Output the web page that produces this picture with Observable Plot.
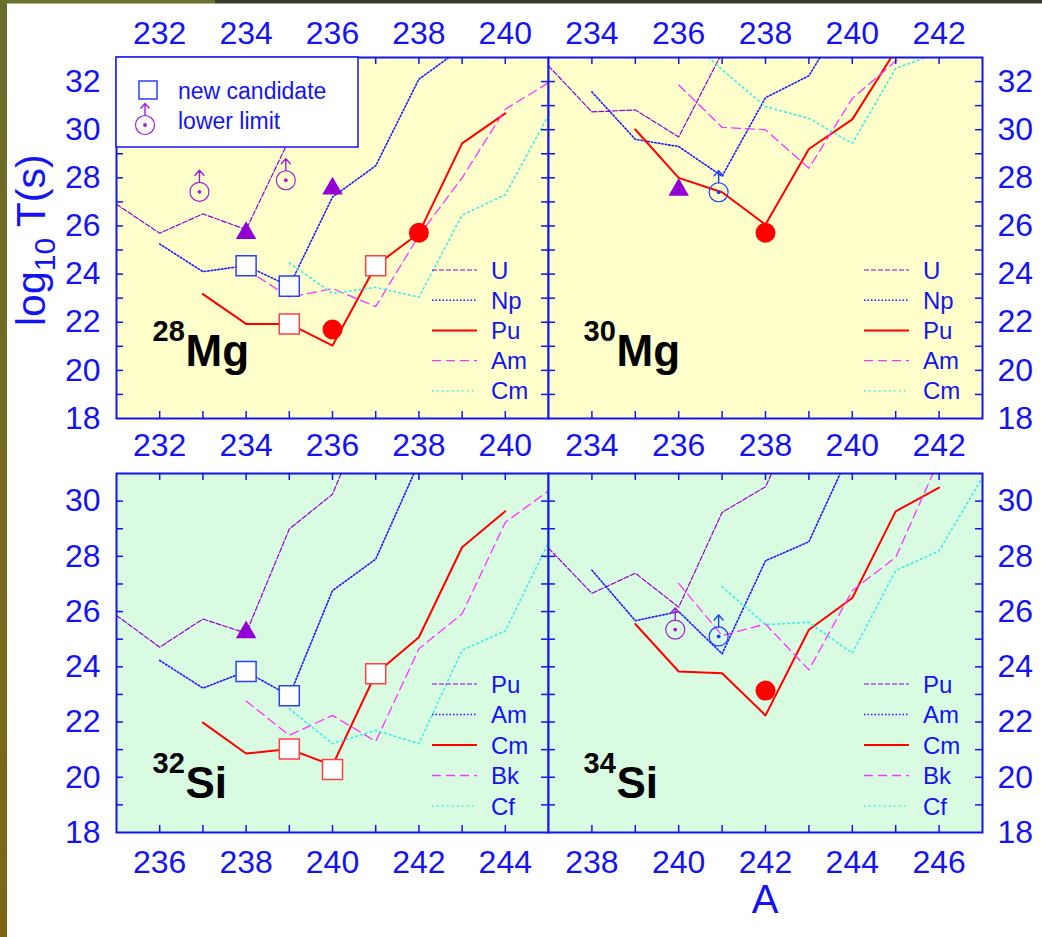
<!DOCTYPE html>
<html><head><meta charset="utf-8">
<script src="https://cdn.jsdelivr.net/npm/d3@7"></script>
<script src="https://cdn.jsdelivr.net/npm/@observablehq/plot@0.6"></script>
<style>
html,body{margin:0;padding:0;background:#fff;}
#wrap{position:relative;width:1042px;height:937px;overflow:hidden;font-family:"Liberation Sans",Arial,sans-serif;background:#fff;}
#wrap svg{position:absolute;}
</style></head><body><div id="wrap"></div>
<script>
// ---------------- data ----------------
// 28Mg panel (top-left)
const mg28_U  = [[231,26.9],[232,25.7],[233,26.5],[234,25.85],[235,29.6],[236,33.4]];
const mg28_Np = [[232,25.25],[233,24.1],[234,24.35],[235,23.5],[236,27.2],[237,28.5],[238,32.1],[239,33.4]];
const mg28_Pu = [[233,23.17],[234,21.93],[235,21.93],[236,21.03],[237,24.35],[238,25.7],[239,29.43],[240,30.68]];
const mg28_Am = [[234,24.2],[235,23.04],[236,23.4],[237,22.65],[238,25.6],[239,28.0],[240,30.85],[241,31.95]];
const mg28_Cm = [[235,24.46],[236,23.2],[237,23.45],[238,23.04],[239,26.45],[240,27.3],[241,30.6]];
const mg28_squaresBlue = [[234,24.35],[235,23.5]];
const mg28_squaresRed  = [[235,21.93],[237,24.35]];
const mg28_triangles   = [[234,25.7],[236,27.55]];
const mg28_circles     = [[236,21.7],[238,25.72]];
const mg28_limitsPurple = [[232.92,27.42],[234.92,27.9]];

// 30Mg panel (top-right)
const mg30_U  = [[233,32.65],[234,30.74],[235,30.82],[236,29.7],[237,33.2]];
const mg30_Np = [[234,31.57],[235,29.6],[236,29.3],[237,28.07],[238,31.33],[239,32.24],[240,35.2]];
const mg30_Pu = [[235,30.01],[236,28.0],[237,27.4],[238,26.06],[239,29.2],[240,30.43],[241,33.3]];
const mg30_Am = [[236,31.86],[237,30.1],[238,30.0],[239,28.4],[240,31.3],[241,32.85],[242,34.2]];
const mg30_Cm = [[236,34.1],[237,32.5],[238,30.96],[239,30.47],[240,29.43],[241,32.55],[242,33.2]];
const mg30_triangles  = [[236,27.5]];
const mg30_limitsBlue = [[236.92,27.4]];
const mg30_circles    = [[238,25.72]];

// 32Si panel (bottom-left)
const si32_Pu = [[235,25.86],[236,24.71],[237,25.73],[238,25.22],[239,28.99],[240,30.25],[241,34.0]];
const si32_Am = [[236,24.23],[237,23.23],[238,23.83],[239,22.95],[240,26.76],[241,27.9],[242,31.4]];
const si32_Cm = [[237,21.98],[238,20.86],[239,21.02],[240,20.43],[241,23.75],[242,25.07],[243,28.33],[244,29.63]];
const si32_Bk = [[238,22.76],[239,21.52],[240,22.24],[241,21.3],[242,24.65],[243,25.92],[244,29.23],[245,30.37]];
const si32_Cf = [[239,22.48],[240,21.22],[241,21.7],[242,21.22],[243,24.6],[244,25.3],[245,28.5]];
const si32_triangles   = [[238,25.25]];
const si32_squaresBlue = [[238,23.83],[239,22.95]];
const si32_squaresRed  = [[239,21.02],[240,20.28],[241,23.75]];

// 34Si panel (bottom-right)
const si34_Pu = [[237,28.3],[238,26.66],[239,27.39],[240,26.16],[241,29.59],[242,30.52],[243,33.9]];
const si34_Am = [[238,27.5],[239,25.67],[240,26.0],[241,24.47],[242,27.84],[243,28.53],[244,31.95]];
const si34_Cm = [[239,25.55],[240,23.83],[241,23.77],[242,22.24],[243,25.34],[244,26.49],[245,29.63],[246,30.49]];
const si34_Bk = [[240,27.02],[241,25.13],[242,25.55],[243,23.89],[244,26.76],[245,27.96],[246,31.5]];
const si34_Cf = [[241,26.9],[242,25.53],[243,25.61],[244,24.49],[245,27.48],[246,28.2],[247,30.86]];
const si34_limitsPurple = [[239.92,25.35]];
const si34_limitsBlue   = [[240.92,25.1]];
const si34_circles      = [[242,23.14]];

// legend names
const namesMg = ["U","Np","Pu","Am","Cm"];
const namesSi = ["Pu","Am","Cm","Bk","Cf"];

// ticks and tick labels
const mg28_xTicks = [232,233,234,235,236,237,238,239,240];
const mg30_xTicks = [234,235,236,237,238,239,240,241,242];
const si32_xTicks = [236,237,238,239,240,241,242,243,244];
const si34_xTicks = [238,239,240,241,242,243,244,245,246];
const mg_yTicks = [19,20,21,22,23,24,25,26,27,28,29,30,31,32];
const si_yTicks = [19,20,21,22,23,24,25,26,27,28,29,30];
const mg28_xLabels = [232,234,236,238,240];
const mg30_xLabels = [234,236,238,240,242];
const si32_xLabels = [236,238,240,242,244];
const si34_xLabels = [238,240,242,244,246];
const mg_yLabels = [18,20,22,24,26,28,30,32];
const si_yLabels = [18,20,22,24,26,28,30];

// ---------------- styles ----------------
const BLUE = "#1414f0";
const PURPLE = "#9400d3";
const FONT = '"Liberation Sans", Arial, sans-serif';
const lineStyles = [
  {stroke: PURPLE, strokeWidth: 1.2, strokeDasharray: "5,2"},
  {stroke: "#1a1aff", strokeWidth: 1.6, strokeDasharray: "1.5,2"},
  {stroke: "#ff0000", strokeWidth: 2},
  {stroke: "#ff33ff", strokeWidth: 1.3, strokeDasharray: "9,5"},
  {stroke: "#33eeee", strokeWidth: 1.6, strokeDasharray: "1.5,3.5"}
];
const wrap = document.getElementById("wrap");
const xy = {x: d => d[0], y: d => d[1]};

const arrowShape = {
  draw(context, l) {
    context.moveTo(0, 0);
    context.lineTo(0, -l);
    context.moveTo(-4.5, -l + 5);
    context.lineTo(0, -l);
    context.lineTo(4.5, -l + 5);
  }
};

function limitMarks(data, color) {
  return [
    Plot.dot(data, {...xy, r: 9.5, fill: "none", stroke: color, strokeWidth: 1.2}),
    Plot.dot(data, {...xy, r: 1.9, fill: color}),
    Plot.vector(data, {...xy, length: 12, rotate: 0, anchor: "start", dy: -9.5, shape: arrowShape, stroke: color, strokeWidth: 1.4})
  ];
}

function makePanel(cfg) {
  const fw = cfg.width - cfg.ml - cfg.mr;
  const fh = cfg.height - cfg.mt - cfg.mb;
  const tick = {stroke: BLUE, strokeWidth: 1.5};
  const lab = {fill: BLUE, fontSize: 32, text: d => String(d)};
  const marks = [
    Plot.frame({fill: cfg.bg, stroke: "none"}),
    ...cfg.series.map((s, i) => Plot.line(s, {...xy, ...lineStyles[i], clip: true})),
    Plot.ruleX(cfg.xTicks, {x: d => d, insetTop: fh - 7, ...tick}),
    Plot.ruleX(cfg.xTicks, {x: d => d, insetBottom: fh - 7, ...tick}),
    Plot.ruleY(cfg.yTicks, {y: d => d, insetRight: fw - 7, ...tick}),
    Plot.ruleY(cfg.yTicks, {y: d => d, insetLeft: fw - 7, ...tick})
  ];
  if (cfg.squaresBlue) marks.push(Plot.dot(cfg.squaresBlue, {...xy, symbol: "square", r: 11.3, fill: "white", stroke: "#2a40ff", strokeWidth: 1.5}));
  if (cfg.squaresRed) marks.push(Plot.dot(cfg.squaresRed, {...xy, symbol: "square", r: 11.3, fill: "white", stroke: "#ff4040", strokeWidth: 1.5}));
  if (cfg.triangles) marks.push(Plot.dot(cfg.triangles, {...xy, symbol: "triangle", r: 7.6, fill: PURPLE}));
  if (cfg.circles) marks.push(Plot.dot(cfg.circles, {...xy, r: 10, fill: "#ff0000"}));
  if (cfg.limitsPurple) marks.push(...limitMarks(cfg.limitsPurple, "#a020d0"));
  if (cfg.limitsBlue) marks.push(...limitMarks(cfg.limitsBlue, "#1a3cff"));
  marks.push(Plot.frame({stroke: BLUE, strokeWidth: 2}));
  if (cfg.xLabelsTop) marks.push(Plot.text(cfg.xLabelsTop, {x: d => d, frameAnchor: "top", lineAnchor: "bottom", dy: -14, ...lab}));
  if (cfg.xLabelsBottom) marks.push(Plot.text(cfg.xLabelsBottom, {x: d => d, frameAnchor: "bottom", lineAnchor: "top", dy: cfg.bottomDy, ...lab}));
  if (cfg.yLabelsLeft) marks.push(Plot.text(cfg.yLabelsLeft, {y: d => d, frameAnchor: "left", textAnchor: "end", lineAnchor: "middle", dx: -16, ...lab}));
  if (cfg.yLabelsRight) marks.push(Plot.text(cfg.yLabelsRight, {y: d => d, frameAnchor: "right", textAnchor: "start", lineAnchor: "middle", dx: 15, ...lab}));
  marks.push(Plot.text([cfg.massNum], {frameAnchor: "bottom-left", textAnchor: "start", lineAnchor: "bottom", dx: cfg.massDx, dy: -(cfg.baseUp + 25), fontSize: 29, fontWeight: "bold", fill: "black", text: d => d}));
  marks.push(Plot.text([cfg.element], {frameAnchor: "bottom-left", textAnchor: "start", lineAnchor: "bottom", dx: cfg.massDx + 33, dy: -cfg.baseUp, fontSize: 44, fontWeight: "bold", fill: "black", text: d => d}));

  const svg = Plot.plot({
    width: cfg.width, height: cfg.height,
    marginLeft: cfg.ml, marginRight: cfg.mr, marginTop: cfg.mt, marginBottom: cfg.mb,
    x: {domain: cfg.xDomain, axis: null},
    y: {domain: cfg.yDomain, axis: null},
    style: {overflow: "visible", background: "transparent", fontFamily: FONT},
    marks
  });
  svg.style.left = cfg.left + "px";
  svg.style.top = cfg.top + "px";

  // series legend
  const g = d3.select(svg).append("g").attr("text-anchor", "start");
  cfg.names.forEach((name, i) => {
    const yy = cfg.mt + cfg.legTop + i * cfg.legStep;
    const st = lineStyles[i];
    g.append("line").attr("x1", cfg.ml + 316).attr("x2", cfg.ml + 361).attr("y1", yy).attr("y2", yy)
      .attr("stroke", st.stroke).attr("stroke-width", st.strokeWidth)
      .attr("stroke-dasharray", st.strokeDasharray || null);
    g.append("text").attr("x", cfg.ml + 375).attr("y", yy).attr("dy", "0.36em")
      .attr("text-anchor", "start").attr("fill", BLUE).attr("font-size", 24).text(name);
  });
  wrap.appendChild(svg);
  return svg;
}

const tl = makePanel({left: 0, top: 0, width: 548, height: 470, ml: 116, mr: 0, mt: 57, mb: 52,
  xDomain: [231, 241], yDomain: [18, 33], bg: "#ffffcc",
  series: [mg28_U, mg28_Np, mg28_Pu, mg28_Am, mg28_Cm], names: namesMg,
  xTicks: mg28_xTicks, yTicks: mg_yTicks, xLabelsTop: mg28_xLabels, xLabelsBottom: mg28_xLabels, bottomDy: 15,
  yLabelsLeft: mg_yLabels,
  squaresBlue: mg28_squaresBlue, squaresRed: mg28_squaresRed, triangles: mg28_triangles, circles: mg28_circles,
  limitsPurple: mg28_limitsPurple,
  massNum: "28", element: "Mg", massDx: 36, baseUp: 53, legTop: 213, legStep: 30.2});

makePanel({left: 548, top: 0, width: 494, height: 470, ml: 0, mr: 60, mt: 57, mb: 52,
  xDomain: [233, 243], yDomain: [18, 33], bg: "#ffffcc",
  series: [mg30_U, mg30_Np, mg30_Pu, mg30_Am, mg30_Cm], names: namesMg,
  xTicks: mg30_xTicks, yTicks: mg_yTicks, xLabelsTop: mg30_xLabels, xLabelsBottom: mg30_xLabels, bottomDy: 15,
  yLabelsRight: mg_yLabels,
  triangles: mg30_triangles, circles: mg30_circles, limitsBlue: mg30_limitsBlue,
  massNum: "30", element: "Mg", massDx: 35, baseUp: 53, legTop: 213, legStep: 30.2});

makePanel({left: 0, top: 470, width: 548, height: 467, ml: 116, mr: 0, mt: 3, mb: 105,
  xDomain: [235, 245], yDomain: [18, 31], bg: "#d9fbe2",
  series: [si32_Pu, si32_Am, si32_Cm, si32_Bk, si32_Cf], names: namesSi,
  xTicks: si32_xTicks, yTicks: si_yTicks, xLabelsBottom: si32_xLabels, bottomDy: 18,
  yLabelsLeft: si_yLabels,
  squaresBlue: si32_squaresBlue, squaresRed: si32_squaresRed, triangles: si32_triangles,
  massNum: "32", element: "Si", massDx: 36, baseUp: 35, legTop: 211, legStep: 30.5});

makePanel({left: 548, top: 470, width: 494, height: 467, ml: 0, mr: 60, mt: 3, mb: 105,
  xDomain: [237, 247], yDomain: [18, 31], bg: "#d9fbe2",
  series: [si34_Pu, si34_Am, si34_Cm, si34_Bk, si34_Cf], names: namesSi,
  xTicks: si34_xTicks, yTicks: si_yTicks, xLabelsBottom: si34_xLabels, bottomDy: 18,
  yLabelsRight: si_yLabels,
  circles: si34_circles, limitsPurple: si34_limitsPurple, limitsBlue: si34_limitsBlue,
  massNum: "34", element: "Si", massDx: 35, baseUp: 35, legTop: 211, legStep: 30.5});

// symbol legend box (top-left panel)
{
  const g = d3.select(tl).append("g").attr("text-anchor", "start");
  g.append("rect").attr("x", 116).attr("y", 57).attr("width", 242).attr("height", 90)
    .attr("fill", "white").attr("stroke", BLUE).attr("stroke-width", 1.5);
  g.append("rect").attr("x", 139).attr("y", 81).attr("width", 18).attr("height", 18)
    .attr("fill", "white").attr("stroke", "#2a40ff").attr("stroke-width", 1.5);
  g.append("text").attr("x", 178).attr("y", 99).attr("text-anchor", "start").attr("fill", BLUE).attr("font-size", 23).text("new candidate");
  const c = "#a020d0";
  g.append("circle").attr("cx", 145).attr("cy", 125).attr("r", 9.5).attr("fill", "none").attr("stroke", c).attr("stroke-width", 1.2);
  g.append("circle").attr("cx", 145).attr("cy", 125).attr("r", 1.9).attr("fill", c);
  g.append("path").attr("d", "M145,115.5L145,103.5M140.5,108.5L145,103.5L149.5,108.5").attr("fill", "none").attr("stroke", c).attr("stroke-width", 1.4);
  g.append("text").attr("x", 178).attr("y", 129).attr("text-anchor", "start").attr("fill", BLUE).attr("font-size", 23).text("lower limit");
}

// page decorations and axis titles
{
  const o = d3.select(wrap).append("svg").attr("width", 1042).attr("height", 937)
    .style("left", "0px").style("top", "0px").style("pointer-events", "none");
  const defs = o.append("defs");
  const lg = defs.append("linearGradient").attr("id", "strip").attr("x1", 0).attr("y1", 0).attr("x2", 0).attr("y2", 1);
  lg.append("stop").attr("offset", "0%").attr("stop-color", "#6a6d2c");
  lg.append("stop").attr("offset", "100%").attr("stop-color", "#7c6614");
  o.append("rect").attr("x", 0).attr("y", 0).attr("width", 7).attr("height", 937).attr("fill", "url(#strip)");
  o.append("rect").attr("x", 0).attr("y", 0).attr("width", 215).attr("height", 3.5).attr("fill", "#6b7030");
  o.append("rect").attr("x", 215).attr("y", 0).attr("width", 827).attr("height", 3.5).attr("fill", "#383c2e");
  const t = o.append("text").attr("transform", "translate(45,326) rotate(-90)")
    .attr("fill", BLUE).attr("font-size", 41).attr("font-family", FONT);
  t.append("tspan").text("log");
  t.append("tspan").attr("font-size", 30).attr("dy", 10).text("10");
  t.append("tspan").attr("dy", -10).text(" T(s)");
  o.append("text").attr("x", 765).attr("y", 913).attr("text-anchor", "middle").attr("fill", BLUE)
    .attr("font-size", 40).attr("font-family", FONT).text("A");
}
</script></body></html>
